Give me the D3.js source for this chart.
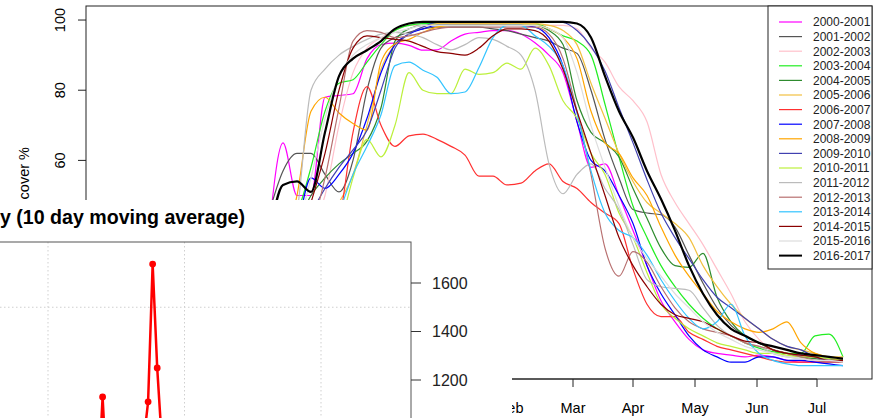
<!DOCTYPE html>
<html>
<head>
<meta charset="utf-8">
<script src="https://cdnjs.cloudflare.com/ajax/libs/d3/7.8.5/d3.min.js"></script>
<style>
  html, body { margin: 0; padding: 0; background: #fff; }
  svg { display: block; font-family: "Liberation Sans", Arial, Helvetica, sans-serif; }
</style>
</head>
<body>
<svg id="chart" width="879" height="418"></svg>
<script>
// --- Data: snow cover % per season, sampled every 7 days (day 0 = 1 Aug) ---

const days = [60, 67, 74, 81, 88, 95, 102, 109, 116, 123, 130, 137, 144, 151, 158, 165, 172, 179, 186, 193, 200,
  207, 214, 221, 228, 235, 242, 249, 256, 263, 270, 277, 284, 291, 298, 305, 312, 319, 326, 333, 340, 347];

const seasons = ['2000-2001', '2001-2002', '2002-2003', '2003-2004', '2004-2005', '2005-2006', '2006-2007',
  '2007-2008', '2008-2009', '2009-2010', '2010-2011', '2011-2012', '2012-2013', '2013-2014', '2014-2015',
  '2015-2016', '2016-2017'];

const seasonColors = ['#ff00ff', '#555555', '#ffc0cb', '#22ee22', '#2e8b2e', '#f2c040', '#ff3030', '#0000ff',
  '#ffa500', '#4040b0', '#bcf03c', '#bbbbbb', '#b87070', '#33c4ff', '#8b0000', '#dddddd', '#000000'];

const s2000 = [40, 65, 50, 50, 78, 78.5, 79, 89, 93, 93.4, 92.8, 91.4, 91.5, 94, 96, 96.5, 97, 97, 96, 93.5, 90,
  85, 71, 58, 59, 50, 40, 30, 20, 14, 9, 6, 5, 4.5, 4, 4.5, 4, 3, 2.5, 2.5, 2.5, 2.5];
const s2001 = [45, 57, 62, 62, 56, 51, 60, 80, 92, 95, 96.5, 97.5, 98, 98, 98, 98, 97.5, 97, 96, 95, 94,
  92, 90.5, 80, 66, 55, 46, 45, 44.5, 41, 33, 25, 18, 13, 10, 8, 6, 5, 4.5, 4, 3.5, 3];
const s2002 = [20, 25, 32, 40, 50, 70, 85, 92, 95, 97, 98.5, 98.5, 98.5, 98.5, 98.5, 98.5, 98.5, 98.5, 98.5, 98.5, 98.5,
  98.5, 97.5, 92, 88, 81, 77, 71, 56, 48, 42, 36, 29, 22, 14, 9, 6, 5, 4, 3.5, 3, 3];
const s2003 = [30, 40, 45, 58, 74, 82, 83, 88, 93, 97, 98.5, 99, 99, 99, 99, 99, 99, 99, 99, 99, 97.5,
  95.5, 94, 90, 76, 61, 47, 38, 30, 24, 19, 15, 12, 10, 8, 6.5, 5.5, 5, 5, 10, 10.5, 4];
const s2004 = [25, 35, 42, 50, 55, 59, 62, 65.5, 75, 94, 97.5, 98.5, 98.5, 98.5, 98.5, 98.5, 98.5, 98.5, 98.5, 98.5, 97,
  93, 77, 68, 65, 61, 52, 43.5, 35, 30, 29.5, 33.5, 21, 14, 10, 8, 6, 5, 4, 3.5, 3, 3];
const s2005 = [15, 20, 28, 35, 42, 48, 56, 70, 86, 93, 96, 98, 99, 99, 99, 99, 99, 99, 99, 99, 98.5,
  97, 93, 82, 72, 62, 54, 48, 45, 42, 38, 30, 24, 19, 15, 12, 9, 7, 6, 5, 4, 4];
const s2006 = [10, 15, 20, 28, 30, 42, 68, 81, 70, 64, 67, 67.5, 66, 64, 61.5, 55.5, 55.5, 53, 53.5, 57, 59,
  54, 52, 48, 45, 42, 29, 19, 15.5, 15.5, 11, 9, 7, 6, 5, 4, 3, 2.5, 2.5, 2.5, 2.5, 2.5];
const s2007 = [15, 22, 40, 55, 52, 56, 62, 72, 85, 93, 96, 97.5, 98.5, 98.5, 98.5, 98.5, 98.5, 98.5, 98.5, 98, 95,
  87, 71, 60, 57, 50, 42, 30, 22, 16, 10, 6, 4, 2.5, 2.5, 4, 4, 3, 3, 2.5, 2, 1.5];
const s2008 = [25, 35, 50, 74, 78, 73.5, 70.5, 68.6, 88, 93.2, 94.5, 96.5, 98, 98.5, 98.5, 98.5, 98.5, 98.5, 98.5, 98.5, 97.5,
  95, 89, 74, 65, 62, 55, 50, 41, 33, 27, 22, 17, 14, 12, 11, 12, 14, 8, 5, 4, 3.5];
const s2009 = [20, 30, 38, 45, 52, 58, 63, 68.6, 80, 92, 96, 98, 99.3, 99.3, 99.3, 99.3, 99.3, 99.3, 99.3, 99.3, 99.3,
  99.3, 97, 92.5, 85.5, 75, 65, 54.5, 45, 38, 32, 26, 21, 18, 15, 12, 9, 7, 6, 4, 3, 3];
const s2010 = [10, 15, 20, 25, 30, 40, 55, 66, 61, 70, 85, 80, 79, 79, 86, 84.5, 85, 87.7, 86, 92, 87,
  77, 72, 62, 56, 45, 38, 28, 19, 15, 12, 10, 8, 7, 6, 5, 5, 4.5, 4, 4, 3.5, 3];
const s2011 = [20, 30, 45, 80, 86, 90, 92.5, 94.5, 96, 96.5, 96, 95, 93, 91.5, 93, 95, 94.5, 92.5, 90, 80, 59,
  50.5, 56, 59, 52, 46, 36, 26, 24, 23.5, 23, 18, 13, 10, 8, 7, 5, 4, 3.5, 3, 3, 2.5];
const s2012 = [20, 25, 30, 40, 55, 75, 94, 97, 96.5, 95, 95.5, 96.5, 97.5, 98, 98, 98, 98, 98, 98, 98, 96,
  89, 74, 56, 35, 27, 34, 31, 24, 18, 14, 12, 11, 10, 8, 7, 6, 5, 4, 3, 2.5, 2.5];
const s2013 = [10, 15, 20, 28, 35, 45, 56, 64, 73, 87, 88, 85.7, 83.7, 79, 79.5, 86.5, 95, 98.5, 98.5, 95.5, 92.5,
  87, 73.4, 57, 45, 40, 38, 33, 26, 20, 15, 12, 14, 19, 10, 5, 3, 2, 1.5, 1.5, 1.5, 1.5];
const s2014 = [15, 22, 35, 48, 62, 80, 92, 95.5, 95, 94.5, 94, 92.5, 91, 90.5, 90, 92, 95.5, 97.5, 97.5, 97, 94,
  86, 74, 62, 50, 38, 30, 24, 19, 16, 15, 14, 12, 10, 8.5, 8, 6, 5, 4.5, 4, 3, 3];
const s2015 = [20, 30, 40, 55, 72, 84, 90, 93, 95, 96.5, 97.5, 98.5, 98.5, 98.5, 98.5, 98.5, 98.5, 98.5, 98.5, 98.5, 97.5,
  95, 85, 70, 58, 47, 38, 32, 27, 22, 18, 14, 11, 9, 7, 6, 5, 4, 3.5, 3, 3, 2.5];
const s2016 = [38, 53, 54, 51, 68, 84, 89, 91.4, 94, 97.5, 99, 99.5, 99.5, 99.5, 99.5, 99.5, 99.5, 99.5, 99.5, 99.5, 99.5,
  99.5, 99, 95, 84, 74, 66.5, 57, 49, 40, 30, 22, 16, 12, 10, 8, 7, 6, 5, 4.5, 4, 3.5];

const seasonValues = [s2000, s2001, s2002, s2003, s2004, s2005, s2006, s2007, s2008, s2009, s2010, s2011, s2012,
  s2013, s2014, s2015, s2016];

const monthLabels = ['Feb', 'Mar', 'Apr', 'May', 'Jun', 'Jul'];
const monthDays = [181, 212, 242, 273, 304, 334];
const coverTicks = [60, 80, 100];

// --- Data: inset series (10 day moving average) ---

const insetDays = [38, 39, 40, 41, 42, 43, 44, 45, 46, 47, 48, 49, 50, 51, 52, 53, 54, 55, 56, 57];
const insetValues = [820, 870, 790, 760, 1130, 770, 840, 900, 860, 810, 880, 920, 860, 945, 1110, 1678, 1250, 950, 900, 870];
const insetTicks = [1200, 1400, 1600];
const insetGridX = [30, 60, 90];
const insetGridY = [1500];

// --- Main chart ---

const svg = d3.select('#chart');
const box = { left: 86, right: 872, top: 6, bottom: 379 };

const x = d3.scaleLinear().domain([-31.5, 361.5]).range([box.left, box.right]);
const y = d3.scaleLinear().domain([-2.3, 104]).range([box.bottom, box.top]);

const line = d3.line()
  .x((v, i) => x(days[i]))
  .y(v => y(v))
  .curve(d3.curveMonotoneX);

const main = svg.append('g');

main.append('g').selectAll('path').data(seasonValues).join('path')
  .attr('d', line)
  .attr('fill', 'none')
  .attr('stroke', (d, i) => seasonColors[i])
  .attr('stroke-width', (d, i) => i === seasons.length - 1 ? 2.2 : 1.2)
  .attr('stroke-linejoin', 'round');

main.append('rect')
  .attr('x', box.left).attr('y', box.top)
  .attr('width', box.right - box.left).attr('height', box.bottom - box.top)
  .attr('fill', 'none').attr('stroke', '#222');

// y axis (rotated labels, R style)
const yAxis = main.append('g');
yAxis.selectAll('line').data(coverTicks).join('line')
  .attr('x1', box.left - 8).attr('x2', box.left)
  .attr('y1', d => y(d)).attr('y2', d => y(d))
  .attr('stroke', '#222');
yAxis.selectAll('text').data(coverTicks).join('text')
  .attr('transform', d => `translate(65,${y(d)}) rotate(-90)`)
  .attr('text-anchor', 'middle')
  .attr('font-size', 14.5)
  .text(d => d);

main.append('text')
  .attr('transform', 'translate(28.5,147) rotate(-90)')
  .attr('text-anchor', 'end')
  .attr('font-size', 14.5)
  .text('cover %');

// x axis (months)
const xAxis = main.append('g');
xAxis.append('line')
  .attr('x1', x(monthDays[0])).attr('x2', x(monthDays[monthDays.length - 1]))
  .attr('y1', box.bottom).attr('y2', box.bottom)
  .attr('stroke', '#222');
xAxis.selectAll('line.tick').data(monthDays).join('line')
  .attr('class', 'tick')
  .attr('x1', d => x(d)).attr('x2', d => x(d))
  .attr('y1', box.bottom).attr('y2', box.bottom + 8)
  .attr('stroke', '#222');
xAxis.selectAll('text').data(monthLabels).join('text')
  .attr('x', (d, i) => x(monthDays[i]))
  .attr('y', 413)
  .attr('text-anchor', 'middle')
  .attr('font-size', 14.5)
  .text(d => d);

// legend (top right)
const lg = main.append('g');
lg.append('rect')
  .attr('x', 768).attr('y', box.top)
  .attr('width', box.right - 768).attr('height', 263)
  .attr('fill', '#fff').attr('stroke', '#222');
const rows = lg.selectAll('g').data(seasons).join('g')
  .attr('transform', (d, i) => `translate(0,${22 + i * 14.6})`);
rows.append('line')
  .attr('x1', 779).attr('x2', 802)
  .attr('stroke', (d, i) => seasonColors[i])
  .attr('stroke-width', (d, i) => i === seasons.length - 1 ? 2 : 1.2);
rows.append('text')
  .attr('x', 813)
  .attr('dy', '0.36em')
  .attr('font-size', 12)
  .attr('fill', '#222')
  .text(d => d);

// --- Inset chart (pasted over lower left) ---

const inset = svg.append('g');
inset.append('rect')
  .attr('x', -1).attr('y', 200).attr('width', 513).attr('height', 220)
  .attr('fill', '#fff');

inset.append('text')
  .attr('x', 0).attr('y', 224)
  .attr('font-size', 19.6)
  .attr('font-weight', 'bold')
  .text('y (10 day moving average)');

const ix = d3.scaleLinear().domain([30, 90]).range([48, 321]);
const iy = d3.scaleLinear().domain([1200, 1600]).range([380, 283]);
const ibox = { left: -10, right: 411, top: 242, bottom: 430 };

inset.append('g').selectAll('line').data(insetGridX).join('line')
  .attr('x1', d => ix(d)).attr('x2', d => ix(d))
  .attr('y1', ibox.top).attr('y2', ibox.bottom)
  .attr('stroke', '#cfcfcf').attr('stroke-dasharray', '1.5,2.5');
inset.append('g').selectAll('line').data(insetGridY).join('line')
  .attr('x1', 0).attr('x2', ibox.right)
  .attr('y1', d => iy(d)).attr('y2', d => iy(d))
  .attr('stroke', '#cfcfcf').attr('stroke-dasharray', '1.5,2.5');

inset.append('rect')
  .attr('x', ibox.left).attr('y', ibox.top)
  .attr('width', ibox.right - ibox.left).attr('height', ibox.bottom - ibox.top)
  .attr('fill', 'none').attr('stroke', '#555');

const iAxis = inset.append('g');
iAxis.selectAll('line').data(insetTicks).join('line')
  .attr('x1', ibox.right).attr('x2', ibox.right + 10)
  .attr('y1', d => iy(d)).attr('y2', d => iy(d))
  .attr('stroke', '#333');
iAxis.selectAll('text').data(insetTicks).join('text')
  .attr('x', 432).attr('y', d => iy(d))
  .attr('dy', '0.36em')
  .attr('font-size', 16)
  .attr('fill', '#222')
  .text(d => d);

const iline = d3.line()
  .x((v, i) => ix(insetDays[i]))
  .y(v => iy(v));

inset.append('path')
  .attr('d', iline(insetValues))
  .attr('fill', 'none')
  .attr('stroke', '#ff0000')
  .attr('stroke-width', 2.5)
  .attr('stroke-linejoin', 'round');

inset.append('g').selectAll('circle').data(insetValues).join('circle')
  .attr('cx', (v, i) => ix(insetDays[i]))
  .attr('cy', v => iy(v))
  .attr('r', 3.4)
  .attr('fill', '#ff0000');
</script>
</body>
</html>
